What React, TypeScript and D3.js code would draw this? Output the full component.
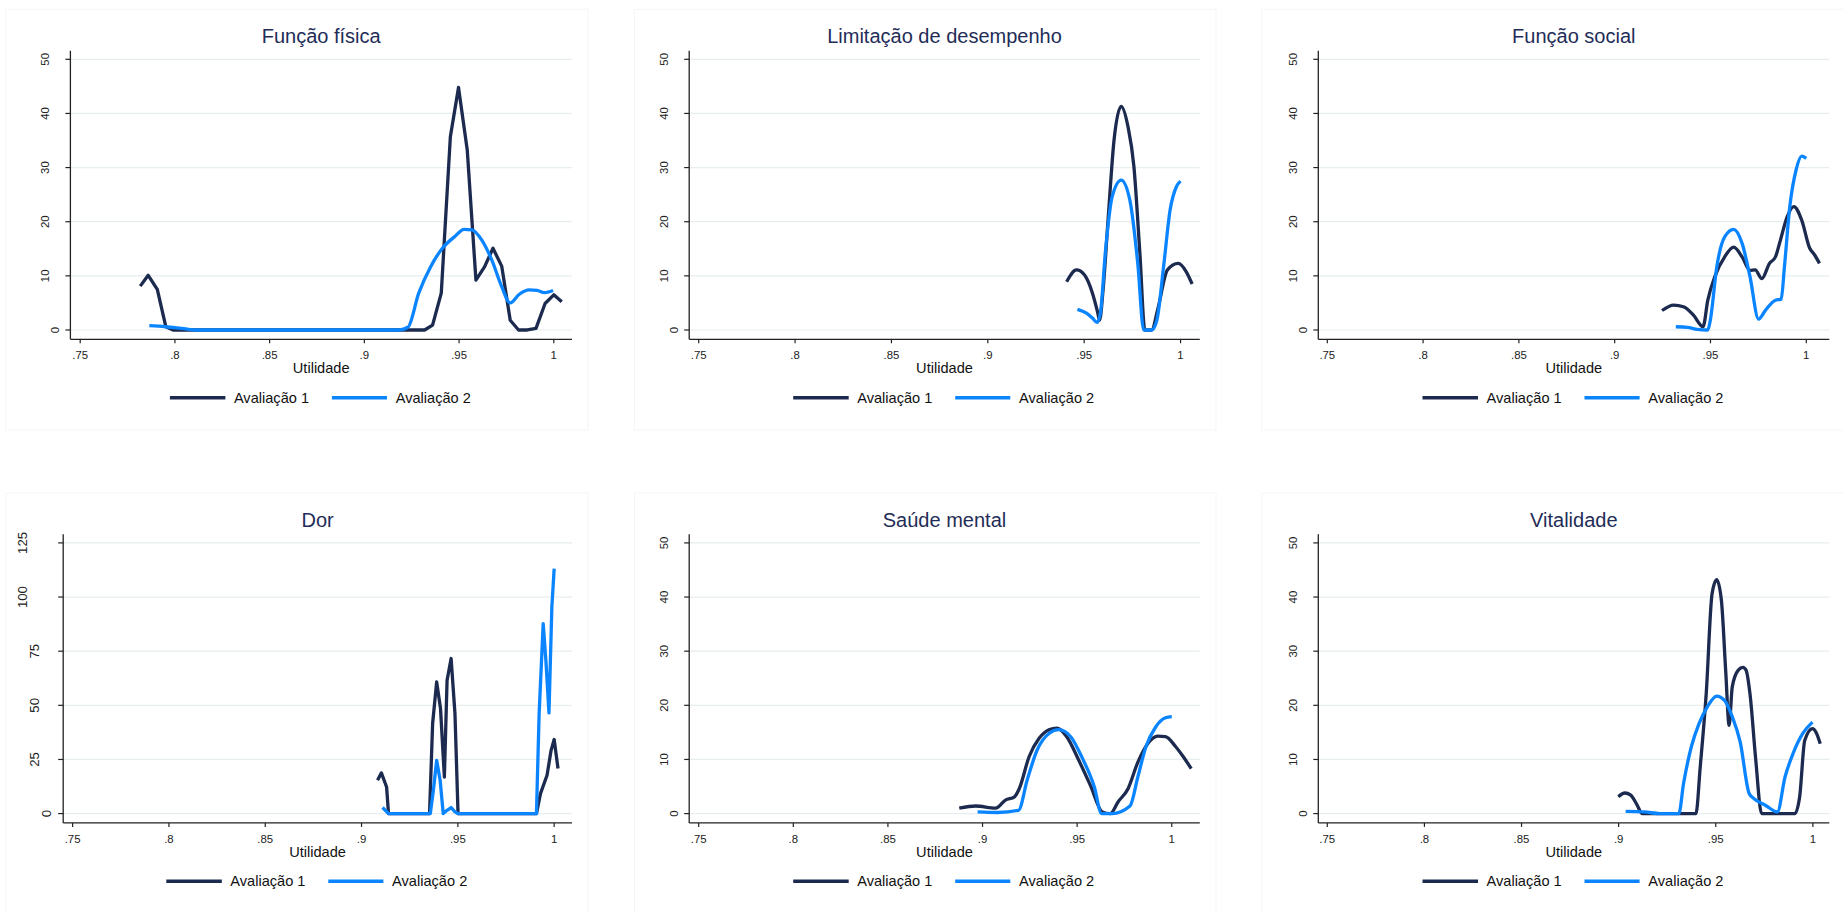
import React from 'react';
import * as d3 from 'd3';

// ---------- DATA ----------
const panelTitles = ['Função física', 'Limitação de desempenho', 'Função social', 'Dor', 'Saúde mental', 'Vitalidade'];
const seriesNames = ['Avaliação 1', 'Avaliação 2'];
const xTickValues = [0.75, 0.8, 0.85, 0.9, 0.95, 1];
const xTickLabels = ['.75', '.8', '.85', '.9', '.95', '1'];
const xAxisTitle = 'Utilidade';
const yTicks50 = [0, 10, 20, 30, 40, 50];
const yTicks125 = [0, 25, 50, 75, 100, 125];

const fisicaAv1: [number, number][] = [
  [0.7817, 8.1], [0.7859, 10.1], [0.7907, 7.5], [0.7952, 0.6], [0.799, 0], [0.9318, 0], [0.936, 0.9],
  [0.9406, 6.8], [0.9454, 35.7], [0.9497, 44.8], [0.9543, 33.3], [0.9589, 9.2], [0.9635, 11.7],
  [0.9679, 15.1], [0.9725, 11.8], [0.977, 1.8], [0.9814, 0], [0.986, 0], [0.9906, 0.3], [0.9954, 4.9],
  [1.0, 6.5], [1.0042, 5.2],
];
const fisicaAv2: [number, number][] = [
  [0.7865, 0.8], [0.795, 0.6], [0.8036, 0.3], [0.812, 0], [0.9183, 0], [0.923, 0.5], [0.9287, 6.8],
  [0.935, 11.7], [0.9412, 15.1], [0.9475, 17.2], [0.9527, 18.6], [0.9568, 18.5], [0.962, 16.6],
  [0.9673, 12.9], [0.9725, 8.0], [0.977, 5.0], [0.9818, 6.6], [0.987, 7.4], [0.9912, 7.3], [0.995, 6.9],
  [0.9996, 7.3],
];
const limitacaoAv1: [number, number][] = [
  [0.9409, 8.9], [0.946, 11.1], [0.9501, 10.2], [0.9543, 6.8], [0.9569, 3.4], [0.958, 1.8], [0.9598, 7.4],
  [0.9625, 20.9], [0.9655, 35.1], [0.9692, 41.3], [0.9727, 37.6], [0.9758, 30.2], [0.9789, 14.2],
  [0.9815, 0], [0.985, 0], [0.9881, 3.7], [0.9932, 11.1], [0.9988, 12.3], [1.0029, 10.8], [1.006, 8.5],
];
const limitacaoAv2: [number, number][] = [
  [0.9465, 3.8], [0.9512, 3.1], [0.9543, 2.2], [0.9567, 1.4], [0.9584, 3.1], [0.9611, 14.8], [0.9645, 24.6],
  [0.9692, 27.7], [0.9737, 24.0], [0.9778, 12.3], [0.9809, 0], [0.985, 0], [0.9877, 1.8], [0.9912, 11.7],
  [0.9946, 22.2], [0.9979, 26.5], [1.0, 27.5],
];
const socialAv1: [number, number][] = [
  [0.9247, 3.6], [0.9308, 4.6], [0.9359, 4.3], [0.941, 2.8], [0.9461, 0.6], [0.9486, 5.5], [0.9523, 9.9],
  [0.9574, 13.5], [0.9621, 15.3], [0.9665, 13.5], [0.9706, 11.0], [0.9733, 11.1], [0.9768, 9.5],
  [0.9808, 12.3], [0.9839, 13.5], [0.9865, 16.6], [0.99, 20.9], [0.9935, 22.8], [0.9976, 20.3],
  [1.0018, 15.1], [1.0043, 13.9], [1.0069, 12.3],
];
const socialAv2: [number, number][] = [
  [0.9319, 0.6], [0.938, 0.5], [0.9431, 0.1], [0.9486, 0], [0.9499, 1.8], [0.9533, 11.7], [0.9574, 17.2],
  [0.9621, 18.6], [0.9665, 16.0], [0.9706, 9.9], [0.9751, 2.0], [0.9788, 3.7], [0.9839, 5.5], [0.9869, 5.7],
  [0.9886, 11.7], [0.9914, 22.8], [0.9947, 29.6], [0.9976, 32.1], [1.0, 31.7],
];
const dorAv1: [number, number][] = [
  [0.9083, 15.4], [0.9103, 18.8], [0.913, 12.3], [0.914, 0], [0.9353, 0], [0.9369, 41.6], [0.939, 60.8],
  [0.941, 48.5], [0.943, 16.9], [0.9444, 61.6], [0.9465, 71.6], [0.9485, 46.2], [0.9501, 0], [0.9908, 0],
  [0.9929, 9.2], [0.9963, 17.7], [0.9984, 29.2], [1.0, 34.2], [1.002, 20.8],
];
const dorAv2: [number, number][] = [
  [0.9109, 2.8], [0.914, 0], [0.9357, 0], [0.9373, 10.8], [0.939, 24.6], [0.9408, 15.4], [0.9424, 0],
  [0.9444, 1.5], [0.9465, 2.8], [0.9485, 0.8], [0.9501, 0], [0.9908, 0], [0.9922, 46.2], [0.9943, 87.7],
  [0.9957, 70.8], [0.9973, 46.5], [0.9988, 95.4], [1.0, 113.1],
];
const mentalAv1: [number, number][] = [
  [0.8877, 1.0], [0.8964, 1.4], [0.9069, 1.0], [0.9121, 2.5], [0.9169, 3.1], [0.9194, 4.6], [0.9246, 10.5],
  [0.9299, 13.9], [0.9351, 15.5], [0.9393, 15.8], [0.9445, 14.2], [0.9508, 9.9], [0.957, 5.2],
  [0.9633, 0.3], [0.9675, 0], [0.9717, 2.2], [0.9769, 4.6], [0.9821, 9.5], [0.9873, 12.9], [0.9926, 14.3],
  [0.9967, 14.2], [1.002, 12.4], [1.0061, 10.5], [1.0103, 8.3],
];
const mentalAv2: [number, number][] = [
  [0.8974, 0.3], [0.9079, 0.2], [0.919, 0.6], [0.9236, 6.2], [0.9288, 11.7], [0.9351, 14.8], [0.9403, 15.5],
  [0.9466, 14.2], [0.9528, 10.2], [0.9591, 4.9], [0.9629, 0], [0.9685, 0], [0.9779, 1.4], [0.9821, 6.8],
  [0.9863, 12.3], [0.9915, 16.0], [0.9967, 17.7], [1.0, 17.9],
];
const vitalidadeAv1: [number, number][] = [
  [0.8998, 3.1], [0.9032, 3.8], [0.9062, 3.4], [0.9092, 1.8], [0.9122, 0], [0.9398, 0], [0.942, 8.6],
  [0.9451, 22.2], [0.9481, 40.6], [0.9505, 43.2], [0.9529, 39.4], [0.9551, 26.5], [0.9569, 16.3],
  [0.9585, 23.4], [0.9616, 26.5], [0.964, 27.0], [0.9656, 26.5], [0.9676, 22.2], [0.9706, 9.9],
  [0.9736, 0], [0.9907, 0], [0.9932, 3.1], [0.9958, 13.5], [0.9998, 15.7], [1.0018, 14.9], [1.0038, 12.9],
];
const vitalidadeAv2: [number, number][] = [
  [0.9036, 0.4], [0.9133, 0.3], [0.9213, 0], [0.931, 0], [0.9334, 5.5], [0.9374, 12.3], [0.9414, 16.6],
  [0.9458, 19.8], [0.9505, 21.7], [0.9545, 20.9], [0.9585, 17.9], [0.9626, 13.2], [0.9672, 3.7],
  [0.9696, 2.8], [0.9757, 1.5], [0.9817, 0.3], [0.9857, 6.8], [0.9898, 11.1], [0.9948, 14.8], [0.9998, 16.9],
];

// ---------- LAYOUT / STYLE ----------
const FONT = '"Liberation Sans", Arial, Helvetica, sans-serif';
const DARK = '#1b2a4e';
const BLUE = '#0a85ff';
const TITLE_COLOR = '#1f2d58';
const GRID = '#e6eef0';
const ROW_DY = 483.6;

type PanelCfg = {
  title: string;
  s1: [number, number][];
  s2: [number, number][];
  yTicks: number[];
  left: number;
  right: number;
  row: number;
  xDom: [number, number];
  frame: [number, number];
  linear1: boolean;
  linear2: boolean;
  yFont: number;
};

const panels: PanelCfg[] = [
  { title: panelTitles[0], s1: fisicaAv1, s2: fisicaAv2, yTicks: yTicks50, left: 70.4, right: 572, row: 0, xDom: [0.74483, 1.00961], frame: [6, 588], linear1: true, linear2: false, yFont: 11.4 },
  { title: panelTitles[1], s1: limitacaoAv1, s2: limitacaoAv2, yTicks: yTicks50, left: 689.2, right: 1199.8, row: 0, xDom: [0.74507, 1.00999], frame: [634.5, 1216], linear1: false, linear2: false, yFont: 11.4 },
  { title: panelTitles[2], s1: socialAv1, s2: socialAv2, yTicks: yTicks50, left: 1318.3, right: 1829.3, row: 0, xDom: [0.7453, 1.01201], frame: [1262, 1850], linear1: false, linear2: false, yFont: 11.4 },
  { title: panelTitles[3], s1: dorAv1, s2: dorAv2, yTicks: yTicks125, left: 63.2, right: 572, row: 1, xDom: [0.74511, 1.00926], frame: [6, 588], linear1: true, linear2: true, yFont: 13.2 },
  { title: panelTitles[4], s1: mentalAv1, s2: mentalAv2, yTicks: yTicks50, left: 689.2, right: 1199.8, row: 1, xDom: [0.74498, 1.01482], frame: [634.5, 1216], linear1: false, linear2: false, yFont: 11.4 },
  { title: panelTitles[5], s1: vitalidadeAv1, s2: vitalidadeAv2, yTicks: yTicks50, left: 1318.3, right: 1829.3, row: 1, xDom: [0.74537, 1.00846], frame: [1262, 1850], linear1: false, linear2: false, yFont: 11.4 },
];

function Panel({ p }: { p: PanelCfg }) {
  const dy = p.row * ROW_DY;
  const top = 50.7 + dy;
  const bottom = 339.3 + dy;
  const x = d3.scaleLinear().domain(p.xDom).range([p.left, p.right]);
  const yMax = p.yTicks[p.yTicks.length - 1];
  const y = d3.scaleLinear().domain([-0.0344 * yMax, 1.0318 * yMax]).range([bottom, top]);
  const mk = (lin: boolean) =>
    d3.line<[number, number]>().x((d) => x(d[0])).y((d) => y(d[1])).curve(lin ? d3.curveLinear : d3.curveMonotoneX);
  const cx = (p.left + p.right) / 2;
  const legY = 397.7 + dy;
  return (
    <g>
      <rect x={p.frame[0]} y={9.3 + dy} width={p.frame[1] - p.frame[0]} height={420.7} fill="#fff" stroke="#f3f5f6" strokeWidth={1} />
      <text x={cx} y={36 + dy} textAnchor="middle" dominantBaseline="central" fontSize={20} fill={TITLE_COLOR} fontFamily={FONT}>{p.title}</text>
      {p.yTicks.map((t) => (
        <line key={'g' + t} x1={p.left} x2={p.right} y1={y(t)} y2={y(t)} stroke={GRID} strokeWidth={1.2} />
      ))}
      {p.yTicks.map((t) => {
        const label = String(t);
        const w = p.yFont * 0.556 * label.length;
        const lx = p.left - (5 + 1.6 * w);
        const ly = y(t);
        return (
          <g key={'y' + t}>
            <line x1={p.left - 5} x2={p.left} y1={ly} y2={ly} stroke="#222" strokeWidth={1.2} />
            <text x={lx} y={ly} transform={`rotate(-90 ${lx} ${ly})`} textAnchor="middle" dominantBaseline="central" fontSize={p.yFont} fill="#222" fontFamily={FONT}>{label}</text>
          </g>
        );
      })}
      {xTickValues.map((t, i) => (
        <g key={'x' + t}>
          <line x1={x(t)} x2={x(t)} y1={bottom} y2={bottom + 4} stroke="#222" strokeWidth={1.2} />
          <text x={x(t)} y={bottom + 15.7} textAnchor="middle" dominantBaseline="central" fontSize={11.4} fill="#222" fontFamily={FONT}>{xTickLabels[i]}</text>
        </g>
      ))}
      <line x1={p.left} x2={p.left} y1={top} y2={bottom} stroke="#222" strokeWidth={1.3} />
      <line x1={p.left} x2={p.right} y1={bottom} y2={bottom} stroke="#222" strokeWidth={1.3} />
      <text x={cx} y={bottom + 28.8} textAnchor="middle" dominantBaseline="central" fontSize={14.6} fill="#111" fontFamily={FONT}>{xAxisTitle}</text>
      <path d={mk(p.linear1)(p.s1) || ''} fill="none" stroke={DARK} strokeWidth={3.3} strokeLinejoin="round" />
      <path d={mk(p.linear2)(p.s2) || ''} fill="none" stroke={BLUE} strokeWidth={3.3} strokeLinejoin="round" />
      <line x1={cx - 151.3} x2={cx - 95.8} y1={legY} y2={legY} stroke={DARK} strokeWidth={3.6} />
      <text x={cx - 87.3} y={legY} dominantBaseline="central" fontSize={14.6} fill="#111" fontFamily={FONT}>{seriesNames[0]}</text>
      <line x1={cx + 10.7} x2={cx + 65.8} y1={legY} y2={legY} stroke={BLUE} strokeWidth={3.6} />
      <text x={cx + 74.5} y={legY} dominantBaseline="central" fontSize={14.6} fill="#111" fontFamily={FONT}>{seriesNames[1]}</text>
    </g>
  );
}

export default function App() {
  return (
    <svg width={1843} height={912} style={{ position: 'absolute', left: 0, top: 0, background: '#fff' }}>
      <rect x={0} y={0} width={1843} height={912} fill="#fff" />
      {panels.map((p, i) => (
        <Panel key={i} p={p} />
      ))}
    </svg>
  );
}
